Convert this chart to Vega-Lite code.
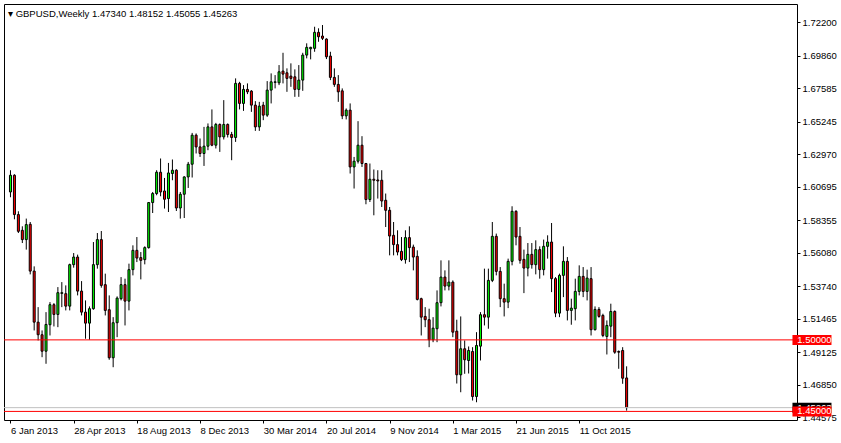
{
  "$schema": "https://vega.github.io/schema/vega-lite/v6.json",
  "width": 793,
  "height": 416,
  "autosize": {"type": "none"},
  "padding": {"left": 4, "top": 4, "right": 44, "bottom": 23},
  "background": "white",
  "title": {"text": "▾ GBPUSD,Weekly  1.47340 1.48152 1.45055 1.45263", "anchor": "start", "frame": "group", "dx": 4, "offset": -19, "baseline": "middle", "font": "Liberation Sans", "fontSize": 9.5, "fontWeight": "normal", "color": "#000000"},
  "config": {
    "view": {"stroke": "#000000", "strokeWidth": 1},
    "axis": {"labelFont": "Liberation Sans", "labelFontSize": 9.5, "labelColor": "#000000", "tickColor": "#000000", "domain": false, "grid": false, "tickSize": 3, "labelPadding": 2, "labelOverlap": false, "labelFlush": false}
  },
  "datasets": {
    "candles": [
      {"week":0,"open":1.6034,"high":1.6186,"low":1.5997,"close":1.6151},
      {"week":1,"open":1.6151,"high":1.6158,"low":1.5843,"close":1.5876},
      {"week":2,"open":1.5876,"high":1.5899,"low":1.5747,"close":1.5759},
      {"week":3,"open":1.5766,"high":1.5794,"low":1.5677,"close":1.5701},
      {"week":4,"open":1.5701,"high":1.5848,"low":1.5631,"close":1.5806},
      {"week":5,"open":1.5808,"high":1.5824,"low":1.5458,"close":1.5481},
      {"week":6,"open":1.5481,"high":1.5514,"low":1.5066,"close":1.5124},
      {"week":7,"open":1.5124,"high":1.5229,"low":1.4996,"close":1.5036},
      {"week":8,"open":1.5036,"high":1.5066,"low":1.4879,"close":1.4921},
      {"week":9,"open":1.4921,"high":1.5194,"low":1.4833,"close":1.5108},
      {"week":10,"open":1.5106,"high":1.5264,"low":1.5031,"close":1.5246},
      {"week":11,"open":1.5246,"high":1.5257,"low":1.5094,"close":1.5178},
      {"week":12,"open":1.5178,"high":1.5369,"low":1.5089,"close":1.5330},
      {"week":13,"open":1.5325,"high":1.5404,"low":1.5229,"close":1.5330},
      {"week":14,"open":1.5323,"high":1.5381,"low":1.5206,"close":1.5236},
      {"week":15,"open":1.5236,"high":1.5533,"low":1.5206,"close":1.5526},
      {"week":16,"open":1.5526,"high":1.5607,"low":1.5505,"close":1.5579},
      {"week":17,"open":1.5579,"high":1.5596,"low":1.5311,"close":1.5341},
      {"week":18,"open":1.5341,"high":1.5411,"low":1.5171,"close":1.5194},
      {"week":19,"open":1.5194,"high":1.5276,"low":1.5008,"close":1.5117},
      {"week":20,"open":1.5117,"high":1.5234,"low":1.5001,"close":1.5218},
      {"week":21,"open":1.5218,"high":1.5684,"low":1.5211,"close":1.5526},
      {"week":22,"open":1.5526,"high":1.5747,"low":1.5498,"close":1.5701},
      {"week":23,"open":1.5701,"high":1.5761,"low":1.5365,"close":1.5381},
      {"week":24,"open":1.5386,"high":1.5463,"low":1.5171,"close":1.5206},
      {"week":25,"open":1.5211,"high":1.5311,"low":1.4861,"close":1.4875},
      {"week":26,"open":1.4875,"high":1.5159,"low":1.4809,"close":1.5120},
      {"week":27,"open":1.5120,"high":1.5304,"low":1.5019,"close":1.5292},
      {"week":28,"open":1.5288,"high":1.5439,"low":1.5276,"close":1.5386},
      {"week":29,"open":1.5386,"high":1.5428,"low":1.5101,"close":1.5271},
      {"week":30,"open":1.5271,"high":1.5533,"low":1.5206,"close":1.5491},
      {"week":31,"open":1.5491,"high":1.5661,"low":1.5451,"close":1.5626},
      {"week":32,"open":1.5626,"high":1.5719,"low":1.5544,"close":1.5572},
      {"week":33,"open":1.5575,"high":1.5614,"low":1.5423,"close":1.5556},
      {"week":34,"open":1.5561,"high":1.5654,"low":1.5528,"close":1.5645},
      {"week":35,"open":1.5645,"high":1.5964,"low":1.5638,"close":1.5960},
      {"week":36,"open":1.5960,"high":1.6034,"low":1.5887,"close":1.6023},
      {"week":37,"open":1.6023,"high":1.6186,"low":1.6011,"close":1.6172},
      {"week":38,"open":1.6172,"high":1.6268,"low":1.6004,"close":1.6034},
      {"week":39,"open":1.6041,"high":1.6132,"low":1.5918,"close":1.5983},
      {"week":40,"open":1.5988,"high":1.6237,"low":1.5894,"close":1.6167},
      {"week":41,"open":1.6163,"high":1.6261,"low":1.6116,"close":1.6186},
      {"week":42,"open":1.6186,"high":1.6193,"low":1.5901,"close":1.5922},
      {"week":43,"open":1.5922,"high":1.6034,"low":1.5848,"close":1.6018},
      {"week":44,"open":1.6018,"high":1.6144,"low":1.5852,"close":1.6139},
      {"week":45,"open":1.6139,"high":1.6244,"low":1.6062,"close":1.6228},
      {"week":46,"open":1.6228,"high":1.6447,"low":1.6135,"close":1.6431},
      {"week":47,"open":1.6431,"high":1.6443,"low":1.6303,"close":1.6349},
      {"week":48,"open":1.6349,"high":1.6408,"low":1.6279,"close":1.6303},
      {"week":49,"open":1.6303,"high":1.6489,"low":1.6216,"close":1.6354},
      {"week":50,"open":1.6354,"high":1.6513,"low":1.6326,"close":1.6489},
      {"week":51,"open":1.6489,"high":1.6611,"low":1.6354,"close":1.6361},
      {"week":52,"open":1.6361,"high":1.6517,"low":1.6338,"close":1.6506},
      {"week":53,"open":1.6506,"high":1.6513,"low":1.6314,"close":1.6419},
      {"week":54,"open":1.6419,"high":1.6676,"low":1.6401,"close":1.6506},
      {"week":55,"open":1.6506,"high":1.6513,"low":1.6415,"close":1.6436},
      {"week":56,"open":1.6436,"high":1.6454,"low":1.6256,"close":1.6415},
      {"week":57,"open":1.6415,"high":1.6828,"low":1.6384,"close":1.6793},
      {"week":58,"open":1.6793,"high":1.6804,"low":1.6611,"close":1.6653},
      {"week":59,"open":1.6653,"high":1.6781,"low":1.6601,"close":1.6751},
      {"week":60,"open":1.6751,"high":1.6793,"low":1.6718,"close":1.6734},
      {"week":61,"open":1.6739,"high":1.6746,"low":1.6594,"close":1.6641},
      {"week":62,"open":1.6641,"high":1.6669,"low":1.6461,"close":1.6489},
      {"week":63,"open":1.6489,"high":1.6664,"low":1.6461,"close":1.6634},
      {"week":64,"open":1.6641,"high":1.6664,"low":1.6536,"close":1.6571},
      {"week":65,"open":1.6571,"high":1.6809,"low":1.6559,"close":1.6746},
      {"week":66,"open":1.6746,"high":1.6863,"low":1.6653,"close":1.6804},
      {"week":67,"open":1.6800,"high":1.6851,"low":1.6758,"close":1.6804},
      {"week":68,"open":1.6797,"high":1.6921,"low":1.6781,"close":1.6874},
      {"week":69,"open":1.6879,"high":1.7007,"low":1.6793,"close":1.6858},
      {"week":70,"open":1.6867,"high":1.6898,"low":1.6734,"close":1.6828},
      {"week":71,"open":1.6844,"high":1.6933,"low":1.6769,"close":1.6828},
      {"week":72,"open":1.6839,"high":1.6891,"low":1.6699,"close":1.6751},
      {"week":73,"open":1.6751,"high":1.6921,"low":1.6699,"close":1.6816},
      {"week":74,"open":1.6816,"high":1.7007,"low":1.6741,"close":1.6991},
      {"week":75,"open":1.6991,"high":1.7073,"low":1.6968,"close":1.7045},
      {"week":76,"open":1.7035,"high":1.7049,"low":1.6961,"close":1.7045},
      {"week":77,"open":1.7038,"high":1.7189,"low":1.7014,"close":1.7150},
      {"week":78,"open":1.7150,"high":1.7178,"low":1.7084,"close":1.7119},
      {"week":79,"open":1.7124,"high":1.7201,"low":1.7096,"close":1.7108},
      {"week":80,"open":1.7103,"high":1.7108,"low":1.6963,"close":1.6979},
      {"week":81,"open":1.6984,"high":1.7014,"low":1.6816,"close":1.6835},
      {"week":82,"open":1.6835,"high":1.6898,"low":1.6769,"close":1.6786},
      {"week":83,"open":1.6786,"high":1.6851,"low":1.6664,"close":1.6734},
      {"week":84,"open":1.6741,"high":1.6758,"low":1.6543,"close":1.6566},
      {"week":85,"open":1.6566,"high":1.6618,"low":1.6541,"close":1.6606},
      {"week":86,"open":1.6606,"high":1.6653,"low":1.6163,"close":1.6209},
      {"week":87,"open":1.6209,"high":1.6279,"low":1.6058,"close":1.6249},
      {"week":88,"open":1.6249,"high":1.6529,"low":1.6233,"close":1.6361},
      {"week":89,"open":1.6361,"high":1.6424,"low":1.6209,"close":1.6233},
      {"week":90,"open":1.6233,"high":1.6237,"low":1.5948,"close":1.5981},
      {"week":91,"open":1.5981,"high":1.6233,"low":1.5964,"close":1.6123},
      {"week":92,"open":1.6123,"high":1.6191,"low":1.5871,"close":1.6116},
      {"week":93,"open":1.6118,"high":1.6186,"low":1.5988,"close":1.6111},
      {"week":94,"open":1.6116,"high":1.6186,"low":1.5929,"close":1.5971},
      {"week":95,"open":1.5976,"high":1.6023,"low":1.5789,"close":1.5906},
      {"week":96,"open":1.5906,"high":1.5929,"low":1.5591,"close":1.5726},
      {"week":97,"open":1.5731,"high":1.5824,"low":1.5591,"close":1.5666},
      {"week":98,"open":1.5666,"high":1.5766,"low":1.5591,"close":1.5614},
      {"week":99,"open":1.5619,"high":1.5719,"low":1.5551,"close":1.5561},
      {"week":100,"open":1.5561,"high":1.5766,"low":1.5533,"close":1.5715},
      {"week":101,"open":1.5715,"high":1.5794,"low":1.5544,"close":1.5645},
      {"week":102,"open":1.5649,"high":1.5666,"low":1.5486,"close":1.5579},
      {"week":103,"open":1.5584,"high":1.5626,"low":1.5276,"close":1.5283},
      {"week":104,"open":1.5288,"high":1.5295,"low":1.5031,"close":1.5159},
      {"week":105,"open":1.5164,"high":1.5229,"low":1.5089,"close":1.5141},
      {"week":106,"open":1.5141,"high":1.5218,"low":1.4949,"close":1.5001},
      {"week":107,"open":1.5001,"high":1.5159,"low":1.4984,"close":1.5082},
      {"week":108,"open":1.5078,"high":1.5346,"low":1.4984,"close":1.5260},
      {"week":109,"open":1.5260,"high":1.5556,"low":1.5234,"close":1.5439},
      {"week":110,"open":1.5439,"high":1.5486,"low":1.5346,"close":1.5376},
      {"week":111,"open":1.5376,"high":1.5556,"low":1.5346,"close":1.5404},
      {"week":112,"open":1.5404,"high":1.5416,"low":1.5019,"close":1.5054},
      {"week":113,"open":1.5061,"high":1.5141,"low":1.4695,"close":1.4756},
      {"week":114,"open":1.4756,"high":1.5164,"low":1.4634,"close":1.4938},
      {"week":115,"open":1.4938,"high":1.4996,"low":1.4763,"close":1.4861},
      {"week":116,"open":1.4856,"high":1.4954,"low":1.4765,"close":1.4926},
      {"week":117,"open":1.4919,"high":1.4949,"low":1.4576,"close":1.4604},
      {"week":118,"open":1.4604,"high":1.5054,"low":1.4564,"close":1.4961},
      {"week":119,"open":1.4956,"high":1.5194,"low":1.4856,"close":1.5176},
      {"week":120,"open":1.5176,"high":1.5498,"low":1.5101,"close":1.5159},
      {"week":121,"open":1.5159,"high":1.5498,"low":1.5078,"close":1.5416},
      {"week":122,"open":1.5416,"high":1.5824,"low":1.5404,"close":1.5724},
      {"week":123,"open":1.5724,"high":1.5743,"low":1.5451,"close":1.5479},
      {"week":124,"open":1.5479,"high":1.5509,"low":1.5229,"close":1.5288},
      {"week":125,"open":1.5288,"high":1.5393,"low":1.5164,"close":1.5264},
      {"week":126,"open":1.5264,"high":1.5568,"low":1.5222,"close":1.5549},
      {"week":127,"open":1.5549,"high":1.5934,"low":1.5521,"close":1.5899},
      {"week":128,"open":1.5899,"high":1.5906,"low":1.5661,"close":1.5719},
      {"week":129,"open":1.5724,"high":1.5789,"low":1.5533,"close":1.5556},
      {"week":130,"open":1.5563,"high":1.5631,"low":1.5327,"close":1.5502},
      {"week":131,"open":1.5502,"high":1.5677,"low":1.5444,"close":1.5598},
      {"week":132,"open":1.5598,"high":1.5677,"low":1.5498,"close":1.5526},
      {"week":133,"open":1.5526,"high":1.5696,"low":1.5458,"close":1.5631},
      {"week":134,"open":1.5631,"high":1.5654,"low":1.5428,"close":1.5491},
      {"week":135,"open":1.5491,"high":1.5701,"low":1.5451,"close":1.5654},
      {"week":136,"open":1.5654,"high":1.5731,"low":1.5568,"close":1.5684},
      {"week":137,"open":1.5684,"high":1.5817,"low":1.5334,"close":1.5428},
      {"week":138,"open":1.5428,"high":1.5439,"low":1.5159,"close":1.5187},
      {"week":139,"open":1.5187,"high":1.5463,"low":1.5159,"close":1.5451},
      {"week":140,"open":1.5451,"high":1.5654,"low":1.5299,"close":1.5549},
      {"week":141,"open":1.5549,"high":1.5579,"low":1.5136,"close":1.5206},
      {"week":142,"open":1.5206,"high":1.5288,"low":1.5106,"close":1.5222},
      {"week":143,"open":1.5218,"high":1.5428,"low":1.5136,"close":1.5339},
      {"week":144,"open":1.5339,"high":1.5521,"low":1.5311,"close":1.5444},
      {"week":145,"open":1.5444,"high":1.5509,"low":1.5299,"close":1.5339},
      {"week":146,"open":1.5339,"high":1.5491,"low":1.5276,"close":1.5432},
      {"week":147,"open":1.5428,"high":1.5509,"low":1.5031,"close":1.5071},
      {"week":148,"open":1.5071,"high":1.5234,"low":1.5066,"close":1.5213},
      {"week":149,"open":1.5213,"high":1.5229,"low":1.5155,"close":1.5164},
      {"week":150,"open":1.5171,"high":1.5183,"low":1.5019,"close":1.5031},
      {"week":151,"open":1.5024,"high":1.5136,"low":1.4898,"close":1.5101},
      {"week":152,"open":1.5096,"high":1.5253,"low":1.5019,"close":1.5199},
      {"week":153,"open":1.5199,"high":1.5206,"low":1.4903,"close":1.4914},
      {"week":154,"open":1.4919,"high":1.4926,"low":1.4798,"close":1.4914},
      {"week":155,"open":1.4926,"high":1.4949,"low":1.4693,"close":1.4732},
      {"week":156,"open":1.47340,"high":1.48152,"low":1.45055,"close":1.45263}
    ],
    "levels": [
      {"price": 1.5, "label": "1.50000"},
      {"price": 1.45, "label": "1.45000"}
    ],
    "bid": [
      {"price": 1.45263, "label": "1.45263"}
    ]
  },
  "layer": [
    {
      "data": {"name": "candles"},
      "mark": {"type": "rule", "color": "#000000", "strokeWidth": 1},
      "encoding": {
        "x": {"field": "week", "type": "quantitative", "title": null,
              "scale": {"domain": [-0.375, 197.875], "nice": false, "zero": false},
              "axis": {"orient": "bottom", "values": [0, 16, 32, 48, 64, 80, 96, 112, 128, 144], "tickCount": 30, "labelAlign": "left", "labelBaseline": "top", "labelDx": -1, "labelFlush": false, "labelOverlap": false,
                       "labelExpr": "timeFormat(datetime(2013, 0, 6 + 7 * datum.value), '%-d %b %Y')"}},
        "y": {"field": "low", "type": "quantitative", "title": null,
              "scale": {"domain": [1.4440, 1.7348], "nice": false, "zero": false},
              "axis": {"orient": "right", "values": [1.722, 1.6986, 1.67585, 1.65245, 1.6297, 1.60695, 1.58355, 1.5608, 1.5374, 1.51465, 1.49125, 1.4685, 1.44575], "tickCount": 30, "format": ".5f", "labelAlign": "left", "labelBaseline": "middle", "labelFlush": false, "labelOverlap": false}},
        "y2": {"field": "high"}
      }
    },
    {
      "data": {"name": "candles"},
      "mark": {"type": "bar", "width": 2, "stroke": "#000000", "strokeWidth": 1},
      "encoding": {
        "x": {"field": "week", "type": "quantitative", "title": null},
        "y": {"field": "open", "type": "quantitative", "title": null},
        "y2": {"field": "close"},
        "fill": {"condition": {"test": "datum.close > datum.open", "value": "#00ff00"}, "value": "#ff0000"}
      }
    },
    {
      "data": {"name": "bid"},
      "mark": {"type": "rule", "color": "#c0c0c0", "strokeWidth": 1},
      "encoding": {
        "y": {"field": "price", "type": "quantitative", "title": null}
      }
    },
    {
      "data": {"name": "levels"},
      "mark": {"type": "rule", "color": "#ff0000", "strokeWidth": 1},
      "encoding": {
        "y": {"field": "price", "type": "quantitative", "title": null}
      }
    },
    {
      "data": {"name": "bid"},
      "mark": {"type": "tick", "orient": "horizontal", "color": "#000000", "size": 39, "thickness": 10, "opacity": 1},
      "encoding": {
        "x": {"datum": 202.93, "type": "quantitative"},
        "y": {"field": "price", "type": "quantitative", "title": null}
      }
    },
    {
      "data": {"name": "bid"},
      "mark": {"type": "text", "color": "#ffffff", "align": "left", "baseline": "middle", "font": "Liberation Sans", "fontSize": 9.5},
      "encoding": {
        "x": {"datum": 199.2, "type": "quantitative"},
        "y": {"field": "price", "type": "quantitative", "title": null},
        "text": {"field": "label"}
      }
    },
    {
      "data": {"name": "levels"},
      "mark": {"type": "tick", "orient": "horizontal", "color": "#ff0000", "size": 39, "thickness": 10, "opacity": 1},
      "encoding": {
        "x": {"datum": 202.93, "type": "quantitative"},
        "y": {"field": "price", "type": "quantitative", "title": null}
      }
    },
    {
      "data": {"name": "levels"},
      "mark": {"type": "text", "color": "#ffffff", "align": "left", "baseline": "middle", "font": "Liberation Sans", "fontSize": 9.5},
      "encoding": {
        "x": {"datum": 199.2, "type": "quantitative"},
        "y": {"field": "price", "type": "quantitative", "title": null},
        "text": {"field": "label"}
      }
    }
  ]
}
